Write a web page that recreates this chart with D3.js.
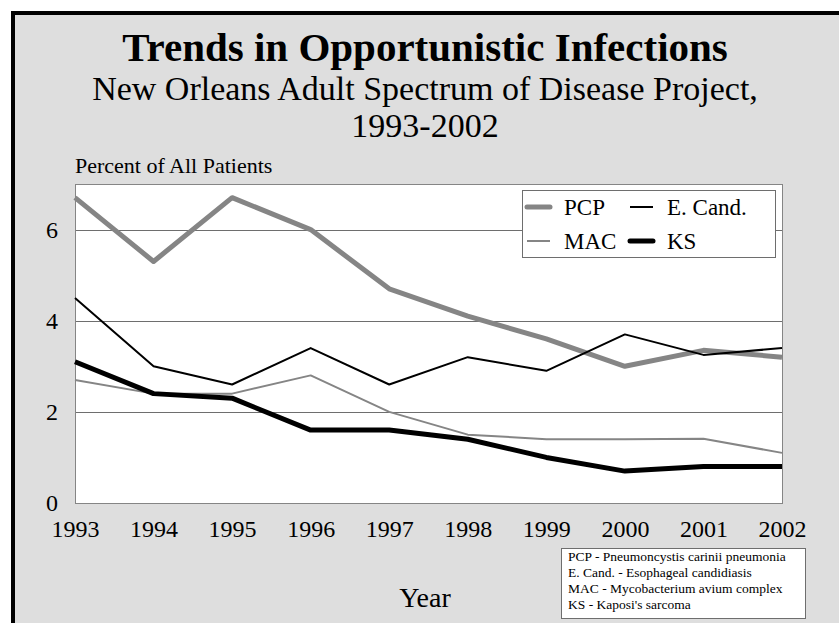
<!DOCTYPE html>
<html>
<head>
<meta charset="utf-8">
<script src="https://cdn.jsdelivr.net/npm/d3@7/dist/d3.min.js"></script>
<style>
  html, body { margin: 0; padding: 0; background: #ffffff; }
  svg { display: block; }
</style>
</head>
<body>
<svg id="chart" width="839" height="623"></svg>
<script>
// Opportunistic infections, percent of all patients, 1993-2002
const years = [1993, 1994, 1995, 1996, 1997, 1998, 1999, 2000, 2001, 2002];
const pcp   = [6.7, 5.3, 6.7, 6.0, 4.7, 4.1, 3.6, 3.0, 3.35, 3.2];
const ecand = [4.5, 3.0, 2.6, 3.4, 2.6, 3.2, 2.9, 3.7, 3.25, 3.4];
const mac   = [2.7, 2.4, 2.4, 2.8, 2.0, 1.5, 1.4, 1.4, 1.41, 1.1];
const ks    = [3.1, 2.4, 2.3, 1.6, 1.6, 1.4, 1.0, 0.7, 0.8, 0.8];
const yTicks = [0, 2, 4, 6];
const seriesNames = ["PCP", "E. Cand.", "MAC", "KS"];
const notes = [
  "PCP - Pneumoncystis carinii pneumonia",
  "E. Cand. - Esophageal candidiasis",
  "MAC - Mycobacterium avium complex",
  "KS - Kaposi's sarcoma"
];

const FONT = '"Liberation Serif", "Times New Roman", Times, serif';

const series = [
  { name: seriesNames[0], values: pcp,   color: "#858585", width: 5 },
  { name: seriesNames[1], values: ecand, color: "#000000", width: 2 },
  { name: seriesNames[2], values: mac,   color: "#858585", width: 2 },
  { name: seriesNames[3], values: ks,    color: "#000000", width: 5 }
];

const svg = d3.select("#chart");

function label(parent, x, y, size, str, anchor, weight) {
  return parent.append("text")
    .attr("x", x).attr("y", y)
    .attr("text-anchor", anchor || "start")
    .attr("font-family", FONT)
    .attr("font-size", size)
    .attr("font-weight", weight || "normal")
    .attr("fill", "#000")
    .text(str);
}

// slide background with a heavy black frame on the top and left
svg.append("rect").attr("x", 13).attr("y", 13).attr("width", 840).attr("height", 640)
  .attr("fill", "#dedede").attr("stroke", "#000").attr("stroke-width", 4);

// titles
label(svg, 425, 61, 41, "Trends in Opportunistic Infections", "middle", "bold");
label(svg, 425, 100, 34, "New Orleans Adult Spectrum of Disease Project,", "middle");
label(svg, 425, 137, 34, "1993-2002", "middle");

const plot = { left: 75, right: 782, top: 184, bottom: 503 };

const x = d3.scaleLinear().domain([1993, 2002]).range([plot.left, plot.right]);
const y = d3.scaleLinear().domain([0, 7]).range([plot.bottom, plot.top]);

// plot area
svg.append("rect")
  .attr("x", plot.left).attr("y", plot.top)
  .attr("width", plot.right - plot.left).attr("height", plot.bottom - plot.top)
  .attr("fill", "#ffffff");

// horizontal gridlines
svg.append("g").selectAll("line").data(yTicks.filter(d => d > 0)).join("line")
  .attr("x1", plot.left).attr("x2", plot.right)
  .attr("y1", d => Math.round(y(d)) + 0.5).attr("y2", d => Math.round(y(d)) + 0.5)
  .attr("stroke", "#6e6e6e").attr("stroke-width", 1);

// plot border
svg.append("rect")
  .attr("x", plot.left + 0.5).attr("y", plot.top + 0.5)
  .attr("width", plot.right - plot.left).attr("height", plot.bottom - plot.top)
  .attr("fill", "none").attr("stroke", "#858585").attr("stroke-width", 1);

// y axis labels
const yAxis = d3.axisLeft(y).tickValues(yTicks).tickSize(0).tickPadding(17)
  .tickFormat(d3.format("d"));
const yg = svg.append("g").attr("transform", `translate(${plot.left},0)`).call(yAxis)
  .attr("font-family", FONT).attr("font-size", 24);
yg.select(".domain").remove();
yg.selectAll("text").attr("fill", "#000");

// x axis labels
const xAxis = d3.axisBottom(x).tickValues(years).tickSize(0).tickPadding(17)
  .tickFormat(d3.format("d"));
const xg = svg.append("g").attr("transform", `translate(0,${plot.bottom})`).call(xAxis)
  .attr("font-family", FONT).attr("font-size", 24);
xg.select(".domain").remove();
xg.selectAll("text").attr("fill", "#000");

// axis titles
label(svg, 75, 173, 22, "Percent of All Patients");
label(svg, 425, 607, 28, "Year", "middle");

// series lines
const line = d3.line().x((d, i) => x(years[i])).y(d => y(d));
svg.append("g").selectAll("path").data(series).join("path")
  .attr("d", d => line(d.values))
  .attr("fill", "none")
  .attr("stroke", d => d.color)
  .attr("stroke-width", d => d.width)
  .attr("stroke-linejoin", "round");

// legend
const lg = svg.append("g");
lg.append("rect").attr("x", 522.5).attr("y", 190.5).attr("width", 253).attr("height", 67)
  .attr("fill", "#ffffff").attr("stroke", "#6e6e6e").attr("stroke-width", 1);
const legendPos = [
  { sx: 527, tx: 564, cy: 207 },
  { sx: 630, tx: 667, cy: 207 },
  { sx: 527, tx: 564, cy: 241 },
  { sx: 630, tx: 667, cy: 241 }
];
series.forEach((s, i) => {
  const p = legendPos[i];
  lg.append("line").attr("x1", p.sx).attr("x2", p.sx + 23)
    .attr("y1", p.cy).attr("y2", p.cy)
    .attr("stroke", s.color).attr("stroke-width", s.width === 5 ? 5 : 2)
    .attr("stroke-linecap", s.width === 5 ? "round" : "butt");
  label(lg, p.tx, p.cy + 8, 23, s.name);
});

// abbreviation notes
const ng = svg.append("g");
ng.append("rect").attr("x", 561.5).attr("y", 548.5).attr("width", 244).attr("height", 70)
  .attr("fill", "#ffffff").attr("stroke", "#6e6e6e").attr("stroke-width", 1);
notes.forEach((d, i) => label(ng, 568, 561 + i * 16, 13.5, d));
</script>
</body>
</html>
